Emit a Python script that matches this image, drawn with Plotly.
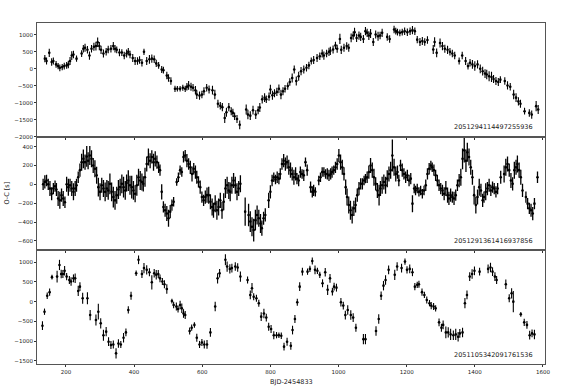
import plotly.graph_objects as go
from plotly.subplots import make_subplots

# ---------------- Panel 1: 2051294114497255936 ----------------
top_label = "2051294114497255936"
top_x = [
    138, 143, 151, 158, 163, 171, 177, 182, 189, 195,
    202, 207, 212, 217, 222, 231, 246, 251, 256, 263,
    269, 275, 282, 288, 293, 298, 303, 310, 318, 324,
    332, 339, 344, 349, 357, 364, 371, 378, 383, 388,
    396, 403, 410, 416, 423, 429, 437, 445, 452, 459,
    465, 472, 481, 486, 496, 501, 508, 520, 527, 535,
    543, 550, 555, 560, 567, 573, 580, 584, 592, 599,
    605, 613, 620, 630, 637, 646, 653, 659, 666, 671,
    678, 685, 690, 695, 702, 710, 729, 734, 741, 749,
    757, 764, 769, 776, 783, 788, 796, 800, 806, 812,
    819, 825, 831, 837, 843, 851, 857, 864, 870, 876,
    883, 890, 898, 906, 913, 920, 927, 937, 945, 952,
    957, 965, 972, 976, 984, 991, 996, 1004, 1008, 1016,
    1024, 1030, 1037, 1043, 1047, 1053, 1060, 1065, 1073, 1079,
    1084, 1089, 1094, 1102, 1109, 1116, 1122, 1128, 1143, 1150,
    1163, 1168, 1173, 1180, 1187, 1194, 1202, 1210, 1217, 1224,
    1231, 1239, 1246, 1253, 1261, 1278, 1282, 1288, 1298, 1305,
    1312, 1320, 1327, 1334, 1341, 1354, 1363, 1373, 1380, 1386,
    1393, 1400, 1408, 1416, 1423, 1430, 1435, 1442, 1449, 1455,
    1462, 1469, 1475, 1488, 1496, 1504, 1514, 1521, 1528, 1534,
    1546, 1560, 1567, 1580, 1586,
]
top_y = [
    300, 230, 470, 200, 230, 130, 80, 30, 50, 80,
    100, 130, 230, 390, 420, 300, 450, 590, 620, 560,
    390, 590, 650, 670, 780, 670, 560, 450, 500, 570,
    590, 670, 590, 560, 480, 480, 390, 450, 500, 420,
    320, 230, 230, 260, 180, 500, 230, 280, 300, 280,
    160, 100, -20, -40, -200, -270, -360, -590, -590, -590,
    -560, -590, -530, -490, -530, -560, -630, -760, -790, -760,
    -660, -560, -610, -630, -760, -1030, -1090, -1130, -1450, -1280,
    -1130, -1250, -1300, -1400, -1480, -1650, -1200, -1350, -1380, -1220,
    -1350, -1220, -1140, -900, -850, -900, -820, -610, -780, -720,
    -680, -590, -760, -660, -590, -510, -390, -270, -20, -360,
    -220, -70, -20, 30, 100, 230, 260, 320, 370, 450,
    390, 450, 500, 530, 570, 690, 590, 880, 560, 620,
    670, 620, 910, 980, 1080, 910, 980, 940, 880, 1110,
    1060, 980, 1040, 790, 1010, 960, 980, 1060, 940, 880,
    1160, 1110, 1080, 1060, 1080, 1110, 1080, 1110, 1140, 1110,
    860, 790, 820, 790, 850, 570, 790, 470, 760, 670,
    590, 560, 500, 450, 390, 230, 390, 230, 80, 180,
    130, 80, 130, 0, -70, -140, -170, -220, -240, -300,
    -360, -390, -320, -360, -490, -530, -760, -850, -960, -1030,
    -1250, -1300, -1350, -1100, -1200,
]
top_err = [
    110, 100, 120, 110, 100, 100, 90, 100, 90, 100,
    100, 110, 120, 130, 110, 90, 100, 110, 120, 110,
    120, 110, 120, 130, 140, 120, 120, 120, 110, 110,
    110, 120, 110, 100, 110, 100, 110, 120, 110, 110,
    120, 120, 110, 110, 110, 90, 120, 130, 120, 110,
    110, 100, 100, 100, 110, 110, 110, 90, 80, 80,
    90, 90, 110, 130, 120, 110, 120, 130, 120, 110,
    120, 110, 120, 130, 140, 120, 110, 120, 150, 130,
    120, 120, 120, 110, 120, 130, 150, 140, 130, 130,
    130, 120, 130, 120, 130, 110, 120, 140, 130, 120,
    120, 130, 140, 120, 110, 110, 110, 130, 120, 130,
    130, 120, 120, 110, 110, 100, 120, 120, 110, 120,
    120, 110, 120, 120, 120, 110, 120, 150, 120, 120,
    110, 120, 130, 120, 130, 120, 120, 120, 120, 120,
    120, 130, 130, 120, 120, 130, 110, 120, 110, 110,
    110, 100, 100, 100, 100, 110, 110, 110, 120, 110,
    110, 120, 120, 110, 110, 130, 140, 130, 130, 120,
    120, 120, 110, 110, 110, 100, 110, 120, 100, 110,
    130, 140, 120, 130, 130, 130, 140, 150, 150, 120,
    120, 120, 100, 110, 120, 110, 140, 130, 120, 120,
    100, 110, 120, 150, 130,
]

# ---------------- Panel 2: 2051291361416937856 ----------------
mid_label = "2051291361416937856"
mid_x = [
    133, 138, 143, 148, 153, 158, 163, 168, 172, 177,
    182, 187, 192, 197, 202, 207, 212, 217, 222, 227,
    231, 236, 241, 246, 251, 256, 261, 265, 270, 275,
    280, 285, 290, 295, 300, 305, 310, 315, 320, 324,
    329, 334, 339, 344, 349, 354, 359, 364, 369, 374,
    378, 383, 388, 393, 398, 403, 408, 413, 418, 423,
    427, 432, 437, 442, 447, 452, 457, 462, 467, 472,
    476, 481, 486, 491, 496, 501, 506, 511, 516, 525,
    530, 535, 540, 545, 550, 555, 560, 565, 570, 575,
    580, 584, 589, 594, 599, 604, 609, 614, 619, 624,
    629, 633, 638, 643, 648, 653, 658, 663, 668, 673,
    678, 682, 687, 692, 697, 702, 707, 712, 726, 736,
    741, 746, 751, 756, 761, 766, 771, 775, 780, 785,
    795, 800, 805, 810, 815, 820, 825, 829, 834, 839,
    844, 849, 854, 859, 864, 869, 874, 878, 883, 888,
    893, 898, 903, 908, 918, 923, 927, 932, 942, 947,
    952, 957, 962, 967, 972, 977, 981, 986, 991, 996,
    1001, 1006, 1011, 1016, 1021, 1025, 1030, 1035, 1040, 1045,
    1050, 1055, 1060, 1065, 1070, 1075, 1079, 1084, 1089, 1094,
    1099, 1104, 1109, 1114, 1119, 1123, 1128, 1133, 1138, 1143,
    1148, 1153, 1158, 1163, 1168, 1173, 1177, 1182, 1187, 1192,
    1197, 1202, 1207, 1212, 1217, 1222, 1226, 1231, 1236, 1241,
    1246, 1251, 1256, 1261, 1266, 1271, 1275, 1280, 1285, 1290,
    1295, 1300, 1305, 1310, 1315, 1320, 1324, 1329, 1334, 1339,
    1344, 1349, 1354, 1359, 1364, 1369, 1374, 1378, 1383, 1388,
    1393, 1398, 1403, 1408, 1413, 1418, 1423, 1427, 1432, 1437,
    1442, 1447, 1452, 1457, 1462, 1467, 1476, 1486, 1491, 1496,
    1501, 1506, 1511, 1516, 1521, 1525, 1530, 1535, 1540, 1550,
    1555, 1560, 1565, 1570, 1575, 1584,
]
mid_y = [
    0, 25, 40, 0, -45, -100, -45, -20, -55, -150,
    -170, -115, -150, -190, 0, -30, -10, -45, -80, -45,
    -10, 75, 150, 235, 270, 235, 295, 250, 305, 270,
    200, 165, 95, -30, -80, -10, -45, -80, -45, -65,
    5, -80, -135, -170, -115, -55, -30, 5, -30, -65,
    15, 40, -10, -30, -65, -100, -10, 75, 40, 25,
    5, 75, 215, 290, 250, 290, 235, 270, 235, 180,
    150, -80, -240, -275, -310, -360, -290, -220, -185, 25,
    75, 150, 130, 290, 305, 250, 215, 180, 110, 165,
    130, 75, 25, -30, -135, -170, -135, -115, -115, -185,
    -240, -275, -205, -275, -240, -170, -275, -185, -45, -10,
    -65, -80, -10, 40, -10, -80, -45, 5, -290, -325,
    -395, -450, -485, -380, -325, -360, -415, -465, -360, -325,
    -170, -80, 40, 75, 50, 75, 60, 110, 215, 250,
    215, 235, 180, 150, 110, 75, 110, 60, 40, 130,
    110, 95, 235, 150, -30, -80, -65, -80, 40, 75,
    130, 130, 110, 110, 95, 110, 130, 150, 180, 215,
    305, 235, 180, 110, -30, -135, -220, -275, -325, -255,
    -220, -115, -45, 5, 5, 40, 60, 75, 130, 200,
    150, 75, 5, -65, -115, -45, -10, 25, -10, 60,
    110, 150, 305, 180, 110, 130, 40, 200, 150, 110,
    75, 95, 40, 60, -205, -45, -65, -45, -80, -65,
    -100, -65, -10, 110, 165, 200, 180, 150, 95, 40,
    -10, -45, -65, -100, -45, -115, -150, -115, -135, -150,
    -115, -10, 40, 75, 270, 360, 250, 340, 290, 180,
    75, -115, -220, -135, -30, -65, -170, -135, -80, -45,
    -10, -65, -30, -45, -80, -45, 75, 110, 180, 215,
    150, 40, 5, 150, 180, 215, 150, 75, -65, -135,
    -205, -255, -275, -310, -205, 75,
]
mid_err = [
    60, 70, 60, 60, 80, 70, 60, 60, 70, 80,
    90, 70, 80, 60, 80, 90, 70, 80, 90, 80,
    70, 60, 70, 90, 100, 80, 110, 90, 100, 90,
    80, 90, 90, 100, 90, 80, 90, 100, 90, 100,
    110, 100, 110, 100, 90, 100, 90, 100, 110, 100,
    90, 110, 100, 120, 100, 90, 110, 90, 100, 90,
    80, 100, 80, 90, 80, 70, 90, 80, 70, 60,
    60, 80, 60, 70, 80, 90, 70, 60, 50, 40,
    50, 50, 50, 60, 60, 70, 60, 70, 80, 60,
    70, 70, 60, 70, 60, 60, 70, 80, 90, 80,
    90, 80, 90, 100, 90, 80, 90, 90, 100, 90,
    90, 100, 90, 80, 90, 90, 80, 90, 150, 120,
    110, 100, 120, 110, 100, 90, 100, 80, 70, 70,
    80, 70, 60, 50, 50, 60, 60, 60, 60, 70,
    70, 70, 80, 80, 70, 80, 70, 60, 60, 60,
    50, 60, 50, 60, 60, 60, 60, 50, 50, 50,
    50, 50, 50, 60, 60, 60, 60, 50, 60, 60,
    70, 80, 80, 70, 80, 90, 90, 100, 90, 80,
    80, 70, 70, 60, 60, 50, 50, 60, 70, 80,
    80, 90, 70, 80, 110, 80, 90, 80, 90, 90,
    80, 90, 170, 90, 80, 70, 60, 60, 70, 60,
    60, 60, 60, 60, 90, 50, 50, 50, 50, 50,
    50, 50, 60, 60, 60, 50, 50, 60, 60, 60,
    60, 60, 60, 70, 80, 80, 70, 70, 60, 70,
    60, 60, 70, 90, 110, 130, 120, 100, 90, 80,
    80, 100, 90, 80, 90, 70, 70, 60, 90, 70,
    70, 60, 60, 60, 60, 60, 70, 90, 90, 80,
    70, 80, 70, 90, 80, 90, 80, 80, 70, 60,
    60, 60, 70, 70, 60, 60,
]

# ---------------- Panel 3: 2051105342091761536 ----------------
bot_label = "2051105342091761536"
bot_x = [
    131, 137, 145, 152, 159, 174, 181, 186, 191, 196,
    202, 210, 215, 222, 227, 236, 241, 249, 263, 271,
    288, 295, 302, 310, 318, 325, 332, 339, 347, 354,
    361, 369, 376, 383, 391, 406, 413, 423, 429, 437,
    445, 452, 459, 465, 471, 476, 483, 489, 496, 511,
    516, 524, 529, 535, 540, 545, 550, 563, 569, 577,
    584, 592, 599, 606, 614, 624, 638, 645, 651, 668,
    673, 681, 687, 697, 704, 712, 733, 741, 746, 751,
    759, 766, 773, 781, 788, 795, 802, 810, 818, 825,
    832, 840, 849, 860, 865, 872, 879, 886, 894, 909,
    916, 923, 931, 938, 945, 953, 961, 968, 975, 982,
    987, 994, 1007, 1014, 1020, 1027, 1036, 1043, 1051, 1073,
    1079, 1110, 1118, 1125, 1132, 1138, 1147, 1165, 1172, 1185,
    1195, 1201, 1209, 1217, 1224, 1231, 1236, 1245, 1252, 1259,
    1267, 1272, 1279, 1285, 1295, 1302, 1307, 1315, 1322, 1329,
    1337, 1344, 1351, 1356, 1364, 1371, 1377, 1385, 1392, 1399,
    1414, 1439, 1446, 1452, 1459, 1464, 1491, 1501, 1508, 1513,
    1535, 1545, 1553, 1561, 1568, 1575,
]
bot_y = [
    -610, -255, 150, 240, 620, 635, 930, 700, 700, 780,
    635, 550, 510, 590, 590, 270, 380, 85, 85, -340,
    -465, -255, -550, -850, -760, -1015, -1100, -1085, -1310, -1060,
    -1085, -915, -780, -210, 150, 720, 1060, 700, 850, 805,
    745, 490, 720, 680, 700, 590, 510, 440, 320, 15,
    -85, -125, -185, -85, -170, -300, -340, -745, -660, -590,
    -915, -1085, -1035, -1085, -1085, -780, -125, 590, 720, 1060,
    890, 830, 850, 890, 865, 635, 550, 170, 340, 125,
    85, -40, -380, -300, -405, -635, -695, -850, -850, -850,
    -865, -1140, -1015, -1120, -720, -440, -15, 380, 760, 760,
    830, 1030, 805, 780, 680, 465, 745, 300, 590, 255,
    380, 355, -15, -100, -340, -210, -340, -405, -660, -950,
    -950, -745, -440, 150, 405, 550, 805, 680, 890, 850,
    1015, 805, 830, 745, 380, 425, 440, 240, 170, 40,
    -40, -100, -125, -170, -525, -660, -590, -780, -780, -830,
    -850, -830, -890, -805, -780, -40, 170, 635, 700, 780,
    760, 830, 865, 760, 635, 550, 440, 85, 210, 0,
    -320, -525, -590, -850, -805, -830,
]
bot_err = [
    110, 80, 80, 90, 60, 150, 130, 110, 100, 120,
    90, 100, 110, 100, 120, 130, 110, 140, 150, 130,
    140, 200, 130, 140, 120, 110, 100, 100, 130, 110,
    90, 120, 100, 90, 100, 70, 110, 100, 130, 120,
    100, 180, 110, 120, 100, 100, 90, 100, 120, 60,
    80, 100, 90, 110, 120, 110, 100, 90, 80, 70,
    100, 90, 90, 100, 110, 110, 120, 130, 110, 140,
    130, 120, 110, 110, 110, 130, 90, 110, 130, 90,
    90, 90, 110, 120, 100, 100, 100, 100, 80, 70,
    80, 100, 100, 100, 110, 100, 90, 110, 100, 80,
    80, 90, 110, 80, 80, 100, 110, 130, 110, 100,
    100, 100, 110, 100, 110, 120, 120, 110, 100, 130,
    130, 120, 120, 110, 120, 120, 110, 130, 110, 110,
    80, 90, 110, 100, 90, 80, 90, 90, 80, 90,
    80, 90, 90, 80, 100, 100, 110, 150, 130, 140,
    120, 140, 120, 110, 120, 130, 110, 110, 120, 110,
    100, 110, 120, 110, 110, 100, 120, 100, 130, 270,
    60, 90, 100, 110, 100, 120,
]

x_title = "BJD-2454833"
y_title = "O-C [s]"
x_ticks = [200, 400, 600, 800, 1000, 1200, 1400, 1600]
top_ticks = [1000, 500, 0, -500, -1000, -1500, -2000]
mid_ticks = [400, 200, 0, -200, -400, -600]
bot_ticks = [1000, 500, 0, -500, -1000, -1500]

fig = make_subplots(rows=3, cols=1, shared_xaxes=True, vertical_spacing=0)

panels = [
    (top_x, top_y, top_err, top_label, top_ticks, [-2000, 1350], 1.1),
    (mid_x, mid_y, mid_err, mid_label, mid_ticks, [-700, 505], 1.3),
    (bot_x, bot_y, bot_err, bot_label, bot_ticks, [-1580, 1300], 1.1),
]

tick_font = dict(family="DejaVu Sans", size=5.5, color="#222")
for i, (xs, ys, es, lab, yt, yr, th) in enumerate(panels, start=1):
    fig.add_trace(
        go.Scatter(
            x=xs, y=ys, mode="markers",
            marker=dict(size=2.6, color="black"),
            error_y=dict(type="data", array=es, visible=True,
                         color="black", thickness=th, width=0),
            showlegend=False, cliponaxis=False, hoverinfo="skip",
        ),
        row=i, col=1,
    )
    fig.update_yaxes(
        row=i, col=1, range=yr, tickvals=yt, ticks="outside", ticklen=2,
        tickwidth=0.8, tickcolor="#333", showgrid=False, zeroline=False,
        showline=True, mirror=True, linecolor="#555", linewidth=1,
        tickfont=tick_font,
    )
    fig.update_xaxes(
        row=i, col=1, range=[115, 1606], tickvals=x_ticks, ticks="outside",
        ticklen=2, tickwidth=0.8, tickcolor="#333", showgrid=False,
        zeroline=False, showline=True, mirror=True, linecolor="#555",
        linewidth=1, tickfont=tick_font, showticklabels=(i == 3),
    )
    xref = "x domain" if i == 1 else f"x{i} domain"
    yref = "y domain" if i == 1 else f"y{i} domain"
    fig.add_annotation(
        x=0.98, y=0.03, xref=xref, yref=yref, xanchor="right",
        yanchor="bottom", text=lab, showarrow=False,
        font=dict(family="DejaVu Sans", size=6.5, color="#222"),
    )

fig.add_annotation(
    x=0.5, y=0, xref="paper", yref="paper", xanchor="center", yanchor="top",
    yshift=-12, text=x_title, showarrow=False,
    font=dict(family="DejaVu Sans", size=6.5, color="#222"),
)
fig.add_annotation(
    x=-0.061, y=0.5, xref="paper", yref="paper", xanchor="center",
    yanchor="middle", textangle=-90, text=y_title, showarrow=False,
    font=dict(family="DejaVu Sans", size=6.5, color="#222"),
)

fig.update_layout(
    width=581, height=388,
    margin=dict(l=37, r=36, t=23, b=24),
    paper_bgcolor="white", plot_bgcolor="white",
)

fig.write_html("out.html", config={"displayModeBar": False},
               post_script="document.body.style.margin='0';")
